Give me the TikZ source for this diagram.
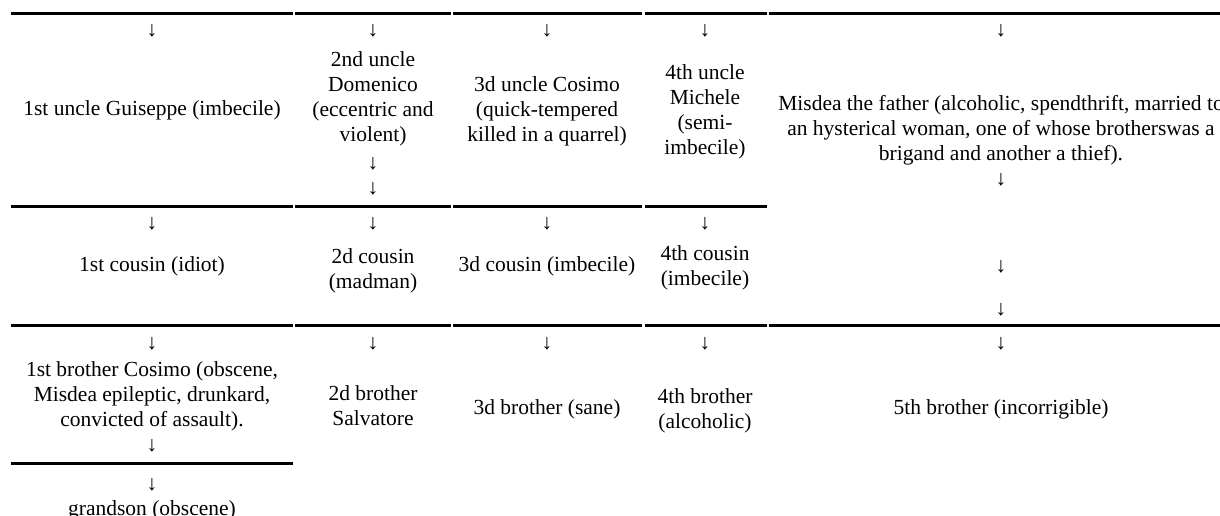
\documentclass[tikz,border=0pt]{standalone}
\usepackage{fontspec}
\setmainfont{Liberation Serif}
\tikzset{
  txt/.style={font=\fontsize{21.5}{25}\selectfont, align=center, inner sep=0pt, execute at begin node=\strut},
  top/.style={txt, anchor=north},
  rulex/.style={line width=3pt},
}
\begin{document}
\begin{tikzpicture}[x=1pt,y=-1pt]
\useasboundingbox (0,0) rectangle (1220,516);
% rules
\draw[rulex] (11,13.5) -- (293,13.5);
\draw[rulex] (295,13.5) -- (451,13.5);
\draw[rulex] (453,13.5) -- (642,13.5);
\draw[rulex] (645,13.5) -- (767,13.5);
\draw[rulex] (769,13.5) -- (1230,13.5);
\draw[rulex] (11,206) -- (293,206);
\draw[rulex] (295,206) -- (451,206);
\draw[rulex] (453,206) -- (642,206);
\draw[rulex] (645,206) -- (767,206);
\draw[rulex] (11,325) -- (293,325);
\draw[rulex] (295,325) -- (451,325);
\draw[rulex] (453,325) -- (642,325);
\draw[rulex] (645,325) -- (767,325);
\draw[rulex] (769,325) -- (1230,325);
\draw[rulex] (11,463) -- (293,463);
% row 1
\node[txt] (a1) at (152,32) {↓};
\node[txt] (u1) at (152,111) {1st uncle Guiseppe (imbecile)};
\node[txt] (a2) at (373,32) {↓};
\node[top] (u2) at (373,51) {2nd uncle\\Domenico\\(eccentric and\\violent)};
\node[top] (a2b) at (373,157) {↓\\↓};
\node[txt] (a3) at (547,32) {↓};
\node[top] (u3) at (547,76) {3d uncle Cosimo\\(quick-tempered\\killed in a quarrel)};
\node[txt] (a4) at (705,32) {↓};
\node[top] (u4) at (705,64) {4th uncle\\Michele\\(semi-\\imbecile)};
\node[txt] (a5) at (1001,32) {↓};
\node[top] (u5) at (1001,95) {Misdea the father (alcoholic, spendthrift, married to\\an hysterical woman, one of whose brotherswas a\\brigand and another a thief).\\↓};
\node[txt] (a5b) at (1001,267) {↓};
\node[txt] (a5c) at (1001,310) {↓};
% row 2
\node[txt] (b1) at (152,224) {↓};
\node[txt] (c1) at (152,266) {1st cousin (idiot)};
\node[txt] (b2) at (373,224) {↓};
\node[top] (c2) at (373,248) {2d cousin\\(madman)};
\node[txt] (b3) at (547,224) {↓};
\node[txt] (c3) at (547,266) {3d cousin (imbecile)};
\node[txt] (b4) at (705,224) {↓};
\node[top] (c4) at (705,245) {4th cousin\\(imbecile)};
% row 3
\node[txt] (d1) at (152,344) {↓};
\node[txt] (d2) at (373,344) {↓};
\node[txt] (d3) at (547,344) {↓};
\node[txt] (d4) at (705,344) {↓};
\node[txt] (d5) at (1001,344) {↓};
\node[top] (e1) at (152,361) {1st brother Cosimo (obscene,\\Misdea epileptic, drunkard,\\convicted of assault).\\↓};
\node[top] (g1) at (152,478) {↓\\grandson (obscene)};
\node[top] (e2) at (373,385) {2d brother\\Salvatore};
\node[txt] (e3) at (547,409) {3d brother (sane)};
\node[top] (e4) at (705,388) {4th brother\\(alcoholic)};
\node[txt] (e5) at (1001,409) {5th brother (incorrigible)};
\end{tikzpicture}
\end{document}
